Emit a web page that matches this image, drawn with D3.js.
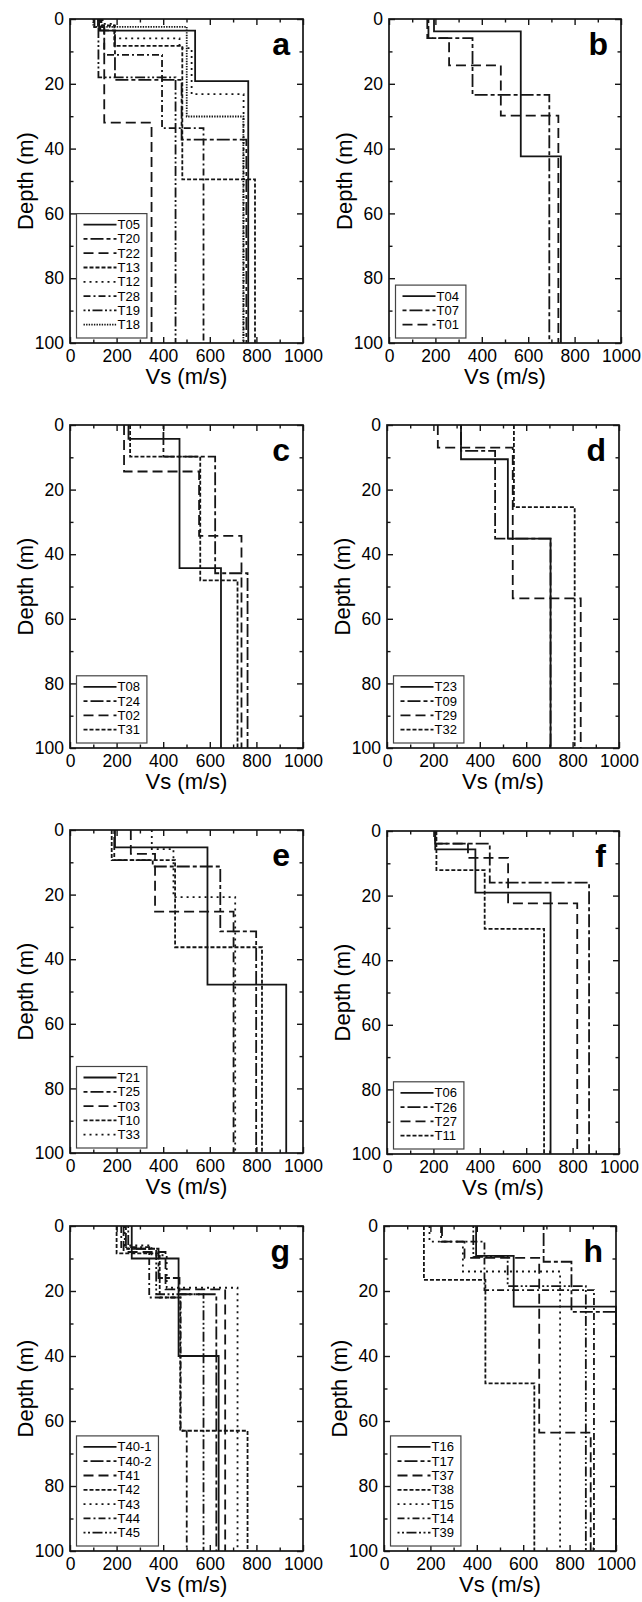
<!DOCTYPE html>
<html lang="en">
<head>
  <meta charset="UTF-8">
  <title>Vs profiles</title>
  <style>
    body { margin: 0; background: #fff; }
    svg { display: block; }
  </style>
</head>
<body>
  <script src="https://d3js.org/d3.v7.min.js"></script>
  <div id="chart"></div>
  <script>

  // ---- data: Vs of each layer and depth of its base ----
  const namesA = ["T05", "T20", "T22", "T13", "T12", "T28", "T19", "T18"];
  const vsA = [[125, 537, 765], [130, 193, 479, 757], [105, 147, 350], [135, 190, 482, 794],
               [140, 193, 470, 522, 745], [120, 147, 395, 573], [122, 453], [100, 501, 744]];
  const depA = [[3.6, 19.2, 100], [3.5, 18.8, 37.2, 100], [2.5, 32, 100], [2, 8.3, 49.5, 100],
                [1.5, 6, 9, 23.2, 100], [2, 11.1, 33.7, 100], [18, 100], [2.4, 30.1, 100]];

  const namesB = ["T04", "T07", "T01"];
  const vsB = [[194, 568, 741], [170, 360, 691], [165, 259, 482, 730]];
  const depB = [[3.8, 42.4, 100], [5.9, 23.4, 100], [5.9, 14.3, 29.8, 100]];

  const namesC = ["T08", "T24", "T02", "T31"];
  const vsC = [[251, 470, 648], [401, 623, 762], [232, 554, 736], [258, 559, 719]];
  const depC = [[4.3, 44.3, 100], [9.8, 45.9, 100], [14.4, 34.3, 100], [9.8, 48.1, 100]];

  const namesD = ["T23", "T09", "T29", "T32"];
  const vsD = [[319, 521, 705], [319, 466, 705], [219, 542, 835], [547, 809]];
  const depD = [[10.6, 35.2, 100], [8, 35.2, 100], [7, 53.7, 100], [25.4, 100]];

  const namesE = ["T21", "T25", "T03", "T10", "T33"];
  const vsE = [[193, 590, 928], [190, 355, 645, 799], [261, 365, 702], [179, 451, 824], [351, 444, 709]];
  const depE = [[5.4, 47.9, 100], [9.3, 11.3, 31.4, 100], [7.4, 25.3, 100], [9.3, 36.3, 100], [5.9, 20.8, 100]];

  const namesF = ["T06", "T26", "T27", "T11"];
  const vsF = [[208, 381, 705], [208, 443, 871], [208, 349, 522, 820], [213, 421, 677]];
  const depF = [[5.7, 19.1, 100], [3.9, 16, 100], [3.9, 8.3, 22.4, 100], [12.1, 30.3, 100]];

  const namesG = ["T40-1", "T40-2", "T41", "T42", "T43", "T44", "T45"];
  const vsG = [[265, 466, 638], [240, 380, 470, 628], [230, 410, 666], [200, 385, 473, 762],
               [235, 350, 415, 719], [220, 340, 475, 501], [250, 370, 573]];
  const depG = [[10, 40, 100], [7, 16, 21, 100], [8, 19.5, 100], [8.4, 22, 63, 100],
                [6, 9, 19, 100], [6.5, 22, 63, 100], [7, 21, 100]];

  const namesH = ["T16", "T17", "T37", "T38", "T15", "T14", "T39"];
  const vsH = [[397, 559, 1000], [688, 808, 1000], [250, 347, 669, 891], [172, 437, 648],
               [196, 340, 759], [246, 433, 905], [385, 533, 870]];
  const depH = [[9.2, 24.8, 100], [11, 26.4, 100], [4.8, 9.8, 63.6, 100], [16.6, 48.4, 100],
                [4.8, 14, 100], [4.8, 19.7, 100], [9.5, 18.5, 100]];

  const panelLetters = ["a", "b", "c", "d", "e", "f", "g", "h"];
  const xMajor = [0, 200, 400, 600, 800, 1000];
  const xMinor = [100, 300, 500, 700, 900];
  const yMajor = [0, 20, 40, 60, 80, 100];
  const yMinor = [10, 30, 50, 70, 90];

  // ---- layout ----
  const width = 642, height = 1602;
  const font = "'Liberation Sans', Arial, Helvetica, sans-serif";
  const ink = "#151515";
  // plot frames [left, top, right, bottom]
  const frames = [
    [70, 19, 303, 343], [389, 19, 621, 343],
    [70, 425, 303, 748], [387, 425, 619, 748],
    [70, 830, 303, 1153], [387, 831, 619, 1154],
    [70, 1226, 303, 1551], [384, 1226, 616, 1551]
  ];
  // line style by position in the legend (same order in every panel)
  const dashes = [null, "4,3,13,3", "10,5", "4,2", "2,4", "7,3,2,3", "2,2.5,2,2.5,10,2.5", "1.4,1.2"];

  const panels = [
    [namesA, vsA, depA], [namesB, vsB, depB], [namesC, vsC, depC], [namesD, vsD, depD],
    [namesE, vsE, depE], [namesF, vsF, depF], [namesG, vsG, depG], [namesH, vsH, depH]
  ];

  const svg = d3.select("#chart")
    .append("svg")
      .attr("width", width)
      .attr("height", height);

  function stepPoints(vs, dep) {
    const pts = [[vs[0], 0]];
    vs.forEach(function (v, i) {
      pts.push([v, dep[i]]);
      if (i + 1 < vs.length) pts.push([vs[i + 1], dep[i]]);
    });
    return pts;
  }

  panels.forEach(function (p, k) {
    const names = p[0], vs = p[1], dep = p[2];
    const f = frames[k];
    const pw = f[2] - f[0], ph = f[3] - f[1];

    const g = svg.append("g")
      .attr("transform", "translate(" + f[0] + "," + f[1] + ")");

    const x = d3.scaleLinear().domain([0, 1000]).range([0, pw]);
    const y = d3.scaleLinear().domain([0, 100]).range([0, ph]);

    // profiles
    const line = d3.line()
      .x(function (d) { return x(d[0]); })
      .y(function (d) { return y(d[1]); });

    g.selectAll("path.profile")
      .data(names)
      .enter()
      .append("path")
        .attr("class", "profile")
        .attr("d", function (d, i) { return line(stepPoints(vs[i], dep[i])); })
        .attr("fill", "none")
        .attr("stroke", ink)
        .attr("stroke-width", 1.8)
        .attr("stroke-dasharray", function (d, i) { return dashes[i]; });

    // axes, ticks pointing inward on all four sides
    function styleAxis(sel) {
      sel.select(".domain").remove();
      sel.selectAll("line").attr("stroke", ink).attr("stroke-width", 1.4);
      sel.attr("font-family", font).attr("font-size", 17.5);
      sel.selectAll("text").attr("fill", "#000");
    }

    g.append("g")
      .attr("transform", "translate(0," + ph + ")")
      .call(d3.axisBottom(x).tickValues(xMajor).tickFormat(d3.format("d"))
              .tickSize(-6).tickSizeOuter(0).tickPadding(7))
      .call(styleAxis);
    g.append("g")
      .attr("transform", "translate(0," + ph + ")")
      .call(d3.axisBottom(x).tickValues(xMinor).tickSize(-3.5).tickFormat(""))
      .call(styleAxis);
    g.append("g")
      .call(d3.axisTop(x).tickValues(xMajor).tickSize(-6).tickFormat(""))
      .call(styleAxis);
    g.append("g")
      .call(d3.axisTop(x).tickValues(xMinor).tickSize(-3.5).tickFormat(""))
      .call(styleAxis);

    g.append("g")
      .call(d3.axisLeft(y).tickValues(yMajor).tickFormat(d3.format("d"))
              .tickSize(-6).tickSizeOuter(0).tickPadding(6))
      .call(styleAxis);
    g.append("g")
      .call(d3.axisLeft(y).tickValues(yMinor).tickSize(-3.5).tickFormat(""))
      .call(styleAxis);
    g.append("g")
      .attr("transform", "translate(" + pw + ",0)")
      .call(d3.axisRight(y).tickValues(yMajor).tickSize(-6).tickFormat(""))
      .call(styleAxis);
    g.append("g")
      .attr("transform", "translate(" + pw + ",0)")
      .call(d3.axisRight(y).tickValues(yMinor).tickSize(-3.5).tickFormat(""))
      .call(styleAxis);

    // frame
    g.append("rect")
      .attr("width", pw)
      .attr("height", ph)
      .attr("fill", "none")
      .attr("stroke", ink)
      .attr("stroke-width", 1.7);

    // axis titles
    g.append("text")
      .attr("x", pw / 2)
      .attr("y", ph + 41)
      .attr("text-anchor", "middle")
      .attr("font-family", font)
      .attr("font-size", 22)
      .text("Vs (m/s)");

    g.append("text")
      .attr("transform", "translate(-37," + (ph / 2) + ") rotate(-90)")
      .attr("text-anchor", "middle")
      .attr("font-family", font)
      .attr("font-size", 22)
      .text("Depth (m)");

    // panel letter
    g.append("text")
      .attr("x", pw - 13)
      .attr("y", 36)
      .attr("text-anchor", "end")
      .attr("font-family", font)
      .attr("font-weight", "bold")
      .attr("font-size", 32)
      .text(panelLetters[k]);

    // legend
    const rowH = 14.3;
    const boxH = names.length * rowH + 10;
    const leg = g.append("g")
      .attr("transform", "translate(6.5," + (ph - 5 - boxH) + ")");
    const box = leg.append("rect")
      .attr("height", boxH)
      .attr("fill", "#fff")
      .attr("stroke", "#444")
      .attr("stroke-width", 1.2);
    let maxW = 0;
    names.forEach(function (n, i) {
      const yy = 11 + i * rowH;
      leg.append("line")
        .attr("x1", 7).attr("x2", 40)
        .attr("y1", yy).attr("y2", yy)
        .attr("stroke", ink)
        .attr("stroke-width", 1.8)
        .attr("stroke-dasharray", dashes[i]);
      const t = leg.append("text")
        .attr("x", 41)
        .attr("y", yy + 4.6)
        .attr("font-family", font)
        .attr("font-size", 13)
        .text(n);
      maxW = Math.max(maxW, t.node().getComputedTextLength());
    });
    box.attr("width", 41 + maxW + 7);
  });

  </script>
</body>
</html>
